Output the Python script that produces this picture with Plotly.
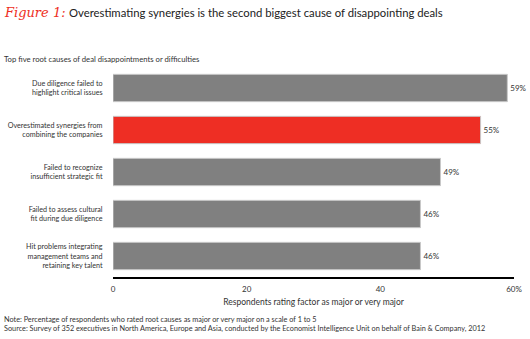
import plotly.graph_objects as go

categories = [
    "Due diligence failed to<br>highlight critical issues",
    "Overestimated synergies from<br>combining the companies",
    "Failed to recognize<br>insufficient strategic fit",
    "Failed to assess cultural<br>fit during due diligence",
    "Hit problems integrating<br>management teams and<br>retaining key talent",
]
values = [59, 55, 49, 46, 46]
value_labels = ["59%", "55%", "49%", "46%", "46%"]
bar_colors = ["#808080", "#EE2E24", "#808080", "#808080", "#808080"]
tick_vals = [0, 20, 40, 60]
tick_text = ["0", "20", "40", "60%"]

FONT = "Lato"
TXT = "#333333"
W, H = 530, 339
ML, MR, MT, MB = 113, 16, 67, 62
PW, PH = W - ML - MR, H - MT - MB


def px(x):
    return (x - ML) / PW


def py(y):
    return (H - MB - y) / PH


fig = go.Figure()
fig.add_trace(go.Bar(
    y=categories, x=values, orientation="h",
    marker=dict(color=bar_colors, line=dict(color="#c8c8c8", width=1)),
    width=0.65,
    text=value_labels, textposition="outside",
    textfont=dict(family=FONT, size=8, color=TXT),
    cliponaxis=False,
))

fig.update_layout(
    width=W, height=H,
    margin=dict(l=ML, r=MR, t=MT, b=MB, autoexpand=False),
    paper_bgcolor="white", plot_bgcolor="white",
    showlegend=False,
    font=dict(family=FONT, color=TXT),
    xaxis=dict(range=[0, 60], tickvals=tick_vals, ticktext=tick_text,
               automargin=False,
               showgrid=False, zeroline=False, showline=True,
               linecolor="black", linewidth=2,
               ticks="outside", ticklen=3, tickcolor="rgba(0,0,0,0)",
               tickfont=dict(size=8, color=TXT),
               title=dict(text="Respondents rating factor as major or very major",
                          font=dict(size=8.5, color=TXT), standoff=6)),
    yaxis=dict(autorange="reversed", showgrid=False, zeroline=False,
               automargin=False,
               showline=False, tickfont=dict(size=7.2, color=TXT),
               ticks="outside", ticklen=8, tickcolor="rgba(0,0,0,0)"),
)

fig.add_annotation(x=px(2), y=py(3), xref="paper", yref="paper", xanchor="left", yanchor="top",
                   text="<i>Figure 1:</i>", showarrow=False,
                   font=dict(family="DejaVu Serif", size=13, color="#EE2E24"))
fig.add_annotation(x=px(67), y=py(4), xref="paper", yref="paper", xanchor="left", yanchor="top",
                   text="Overestimating synergies is the second biggest cause of disappointing deals",
                   showarrow=False, font=dict(family=FONT, size=11.3, color="#222222"))
fig.add_annotation(x=px(2), y=py(52), xref="paper", yref="paper", xanchor="left", yanchor="top",
                   text="Top five root causes of deal disappointments or difficulties",
                   showarrow=False, font=dict(family=FONT, size=7.7, color=TXT))
fig.add_annotation(x=px(2), y=py(313), xref="paper", yref="paper", xanchor="left", yanchor="top",
                   text="Note: Percentage of respondents who rated root causes as major or very major on a scale of 1 to 5<br>"
                        "Source: Survey of 352 executives in North America, Europe and Asia, conducted by the Economist Intelligence Unit on behalf of Bain &amp; Company, 2012",
                   showarrow=False, align="left", font=dict(family=FONT, size=7.3, color=TXT))

fig.write_html("out.html")
